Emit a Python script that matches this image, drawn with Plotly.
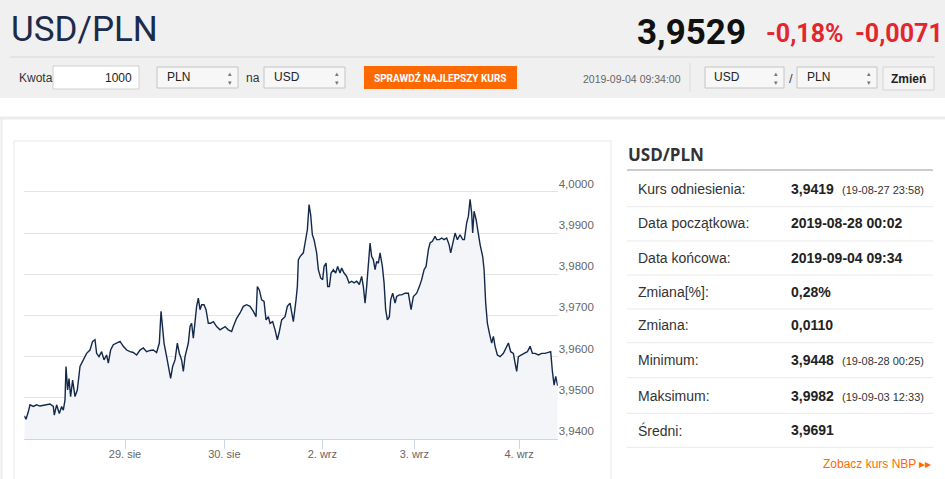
import plotly.graph_objects as go

W, H = 945, 479

# ── Data ──────────────────────────────────────────────────────────────────────
# ordinal position of each quote on the (weekend-free) time axis
BAR = [
    0.0, 1.7, 4.0, 5.7, 9.0, 12.3, 15.7, 20.7, 25.7, 29.0, 30.0, 32.3, 35.0, 37.3,
    39.0, 40.7, 41.7, 43.3, 44.7, 46.3, 48.3, 50.7, 53.0, 55.7, 59.0, 62.3, 65.7,
    68.3, 70.7, 72.3, 74.7, 77.3, 79.7, 82.3, 84.0, 86.3, 89.0, 92.3, 95.7, 99.0,
    102.3, 105.7, 109.0, 112.3, 115.7, 119.0, 122.3, 125.7, 129.0, 132.3, 135.0,
    136.7, 138.3, 139.7, 142.3, 144.0, 146.3, 148.3, 150.7, 153.0, 155.0, 157.3,
    159.0, 160.7, 164.0, 165.7, 167.3, 169.0, 170.7, 172.3, 174.0, 175.7, 177.3,
    179.7, 181.7, 184.0, 186.3, 189.0, 192.3, 195.7, 198.3, 200.7, 204.0, 207.3,
    209.0, 212.3, 215.7, 219.0, 222.3, 225.7, 229.0, 231.7, 233.0, 235.0, 237.3,
    239.7, 241.7, 244.0, 245.7, 248.3, 250.7, 253.0, 255.0, 257.3, 260.7, 263.0,
    265.7, 267.3, 269.0, 271.7, 273.0, 274.0, 275.7, 279.0, 280.7, 283.0, 284.7,
    286.3, 288.0, 289.7, 292.3, 294.0, 296.3, 298.3, 299.7, 301.7, 303.3, 305.0,
    306.7, 309.0, 311.3, 313.3, 315.7, 317.3, 319.7, 322.3, 324.7, 327.3, 329.7,
    332.3, 335.0, 337.3, 339.0, 340.7, 342.3, 344.0, 345.7, 347.3, 349.0, 350.7,
    352.3, 354.0, 355.7, 358.0, 359.7, 361.3, 363.0, 365.0, 366.3, 368.3, 370.7,
    372.3, 375.0, 377.3, 380.7, 384.0, 386.7, 389.0, 392.3, 395.0, 397.3, 399.7,
    401.7, 404.0, 405.7, 408.0, 410.7, 412.3, 415.0, 417.3, 419.7, 422.3, 424.7,
    426.3, 428.3, 430.7, 433.0, 435.7, 438.3, 440.0, 442.3, 444.0, 445.7, 447.3,
    448.3, 449.7, 451.7, 453.3, 455.7, 458.3, 459.7, 461.3, 463.0, 465.0, 467.3,
    469.0, 470.7, 473.0, 475.7, 479.0, 482.3, 484.0, 486.3, 489.0, 490.7, 492.3,
    494.0, 496.3, 499.7, 503.0, 505.7, 508.0, 510.7, 514.0, 517.3, 520.7, 524.0,
    526.3, 528.0, 529.7, 531.3, 533.3,
]
RATE = [
    3.9456, 3.9448, 3.9466, 3.9483, 3.9479, 3.9483, 3.9480, 3.9483, 3.9485, 3.9479,
    3.9458, 3.9483, 3.9462, 3.9479, 3.9470, 3.9495, 3.9576, 3.9519, 3.9547, 3.9503,
    3.9543, 3.9503, 3.9519, 3.9576, 3.9592, 3.9608, 3.9616, 3.9637, 3.9641, 3.9608,
    3.9600, 3.9612, 3.9592, 3.9604, 3.9584, 3.9616, 3.9629, 3.9633, 3.9637, 3.9625,
    3.9616, 3.9612, 3.9610, 3.9604, 3.9616, 3.9621, 3.9612, 3.9615, 3.9616, 3.9610,
    3.9633, 3.9710, 3.9665, 3.9633, 3.9600, 3.9576, 3.9547, 3.9576, 3.9592, 3.9633,
    3.9608, 3.9592, 3.9564, 3.9600, 3.9633, 3.9673, 3.9681, 3.9645, 3.9689, 3.9722,
    3.9742, 3.9714, 3.9726, 3.9726, 3.9714, 3.9681, 3.9681, 3.9685, 3.9673, 3.9665,
    3.9669, 3.9673, 3.9665, 3.9661, 3.9673, 3.9693, 3.9706, 3.9722, 3.9726, 3.9722,
    3.9710, 3.9697, 3.9770, 3.9762, 3.9738, 3.9734, 3.9689, 3.9697, 3.9681, 3.9685,
    3.9665, 3.9641, 3.9661, 3.9689, 3.9697, 3.9722, 3.9730, 3.9710, 3.9685, 3.9738,
    3.9770, 3.9835, 3.9843, 3.9852, 3.9872, 3.9908, 3.9969, 3.9945, 3.9896, 3.9884,
    3.9852, 3.9811, 3.9791, 3.9787, 3.9819, 3.9827, 3.9770, 3.9770, 3.9803, 3.9811,
    3.9803, 3.9819, 3.9803, 3.9815, 3.9803, 3.9795, 3.9779, 3.9783, 3.9779, 3.9783,
    3.9775, 3.9795, 3.9770, 3.9730, 3.9770, 3.9827, 3.9876, 3.9843, 3.9835, 3.9811,
    3.9831, 3.9827, 3.9852, 3.9819, 3.9779, 3.9714, 3.9689, 3.9697, 3.9738, 3.9754,
    3.9730, 3.9746, 3.9750, 3.9750, 3.9754, 3.9754, 3.9714, 3.9746, 3.9754, 3.9770,
    3.9787, 3.9811, 3.9819, 3.9860, 3.9876, 3.9880, 3.9892, 3.9884, 3.9884, 3.9888,
    3.9884, 3.9888, 3.9872, 3.9852, 3.9876, 3.9900, 3.9884, 3.9896, 3.9884, 3.9884,
    3.9925, 3.9941, 3.9982, 3.9949, 3.9900, 3.9953, 3.9933, 3.9908, 3.9872, 3.9843,
    3.9811, 3.9730, 3.9681, 3.9657, 3.9633, 3.9649, 3.9625, 3.9604, 3.9600, 3.9608,
    3.9625, 3.9633, 3.9612, 3.9608, 3.9584, 3.9564, 3.9600, 3.9604, 3.9608, 3.9612,
    3.9625, 3.9608, 3.9608, 3.9604, 3.9608, 3.9608, 3.9610, 3.9612, 3.9564, 3.9531,
    3.9552, 3.9529,
]

TICK_POS = [100.7, 200.0, 298.0, 390.0, 494.7]
TICK_TEXT = ["29. sie", "30. sie", "2. wrz", "3. wrz", "4. wrz"]
Y_TICKS = [3.94, 3.95, 3.96, 3.97, 3.98, 3.99, 4.00, 4.01]

STAT_LABELS = ["Kurs odniesienia:", "Data początkowa:", "Data końcowa:", "Zmiana[%]:",
               "Zmiana:", "Minimum:", "Maksimum:", "Średni:"]
STAT_VALUES = ["3,9419", "2019-08-28 00:02", "2019-09-04 09:34", "0,28%",
               "0,0110", "3,9448", "3,9982", "3,9691"]
STAT_NOTES = ["(19-08-27 23:58)", "", "", "", "", "(19-08-28 00:25)", "(19-09-03 12:33)", ""]

# ── Helpers (page pixels → paper) ─────────────────────────────────────────────


def px(x):
    return x / W


def py(y):
    return 1 - y / H


def rect(x0, y0, x1, y1, fill="rgba(0,0,0,0)", line="rgba(0,0,0,0)", width=1):
    return dict(type="rect", xref="paper", yref="paper",
                x0=px(x0), x1=px(x1), y0=py(y1), y1=py(y0),
                fillcolor=fill, line=dict(color=line, width=width), layer="below")


def hline(x0, x1, y, color, width=1):
    return dict(type="line", xref="paper", yref="paper",
                x0=px(x0), x1=px(x1), y0=py(y), y1=py(y),
                line=dict(color=color, width=width))


def vline(x, y0, y1, color, width=1):
    return dict(type="line", xref="paper", yref="paper",
                x0=px(x), x1=px(x), y0=py(y0), y1=py(y1),
                line=dict(color=color, width=width))


def text(x, y, s, size=12, color="#333", anchor="left", family="Liberation Sans, Arial"):
    return dict(xref="paper", yref="paper", x=px(x), y=py(y), text=s,
                showarrow=False, xanchor=anchor, yanchor="middle",
                font=dict(size=size, color=color, family=family))


# ── Figure ────────────────────────────────────────────────────────────────────

fig = go.Figure()
fig.add_trace(go.Scatter(
    x=BAR, y=RATE, mode="lines",
    line=dict(color="#13294b", width=1.4),
    fill="tozeroy", fillcolor="#f4f5f8",
    hoverinfo="skip",
))

shapes = [
    rect(0, 0, W, 98, fill="#f0f0f0"),
    hline(10, 935, 57, "#d8d8d8"),
    hline(0, W, 118, "#ececec", 3),
    vline(1.5, 118, H, "#ececec", 2),
    rect(14, 141, 611, H + 5, line="#e8e8e8"),
    # amount input
    rect(53, 66, 139, 89, fill="#ffffff", line="#d0d0d0"),
    # selects
    rect(157, 67, 238, 88, fill="#f7f7f7", line="#c4c4c4"),
    rect(264, 67, 345, 88, fill="#f7f7f7", line="#c4c4c4"),
    rect(705, 67, 784, 88, fill="#f7f7f7", line="#c4c4c4"),
    rect(797, 67, 877, 88, fill="#f7f7f7", line="#c4c4c4"),
    # buttons
    rect(364, 66, 517, 89, fill="#ff6a00"),
    rect(883, 67, 934, 90, fill="#f4f4f4", line="#d4d4d4"),
    vline(690, 63, 92, "#dcdcdc"),
    # stats table
    hline(627, 933, 170, "#9a9a9a"),
]
for y in [206.7, 241, 275, 309, 342.7, 377.7, 413.3, 447.3]:
    shapes.append(hline(627, 933, y, "#e9e9e9"))

ann = [
    text(9, 30, "USD/PLN", 35, "#1c2b4a", family="Roboto"),
    text(748, 32, "<b>3,9529</b>", 35, "#111111", "right", family="Roboto"),
    text(764, 34, "<b>-0,18%</b>", 25, "#e3262e", family="Roboto"),
    text(853, 34, "<b>-0,0071</b>", 25, "#e3262e", family="Roboto"),
    text(17, 78, "Kwota", 12, "#333"),
    text(134, 78, "1000", 12, "#222", "right"),
    text(165, 77, "PLN", 12, "#222"),
    text(244, 78, "na", 12, "#333"),
    text(272, 77, "USD", 12, "#222"),
    text(440.5, 78, "<b>SPRAWDŹ NAJLEPSZY KURS</b>", 10, "#ffffff", "center",
         family="Roboto"),
    text(683, 79, "2019-09-04 09:34:00", 10.5, "#666666", "right"),
    text(712, 77, "USD", 12, "#222"),
    text(791, 78, "/", 13, "#444", "center"),
    text(805, 77, "PLN", 12, "#222"),
    text(908.5, 79, "<b>Zmień</b>", 12, "#222", "center"),
    text(626, 154, "<b>USD/PLN</b>", 17, "#333", family="Open Sans"),
    text(933, 464, "Zobacz kurs NBP ▸▸", 12, "#ff6a00", "right"),
]
for cx in [230, 337, 776, 869]:
    ann.append(text(cx, 77.5, "▴<br>▾", 7, "#777", "center"))

rows_y = [189.3, 223.3, 257.7, 292.3, 325, 360, 395.7, 430]
for yy, lab, val, note in zip(rows_y, STAT_LABELS, STAT_VALUES, STAT_NOTES):
    ann.append(text(636, yy, lab, 14, "#333"))
    ann.append(text(789, yy, f"<b>{val}</b>", 14, "#222"))
    if note:
        ann.append(text(840, yy + 1, note, 11, "#333"))

y_text = [f"{v:.4f}".replace(".", ",") for v in Y_TICKS[:-1]] + [""]

fig.update_layout(
    width=W, height=H,
    margin=dict(l=0, r=0, t=0, b=0),
    paper_bgcolor="#ffffff", plot_bgcolor="rgba(0,0,0,0)",
    showlegend=False,
    shapes=shapes, annotations=ann,
    xaxis=dict(
        domain=[px(24.3), px(557.7)],
        range=[BAR[0], BAR[-1]],
        tickvals=TICK_POS, ticktext=TICK_TEXT,
        ticks="outside", ticklen=9, tickcolor="#ccd6eb", tickwidth=1,
        ticklabelstandoff=-4,
        showline=True, linecolor="#ccd6eb", linewidth=1,
        showgrid=False, zeroline=False,
        tickfont=dict(size=11, color="#666666", family="Liberation Sans, Arial"),
    ),
    yaxis=dict(
        domain=[py(439), py(150.7)],
        range=[3.94, 4.01],
        side="right",
        tickvals=Y_TICKS, ticktext=y_text,
        ticklabelposition="outside top",
        showgrid=True, gridcolor="#e3e3e3", gridwidth=1,
        zeroline=False, ticks="",
        tickfont=dict(size=11.5, color="#666666", family="Liberation Sans, Arial"),
    ),
)

# the page body has a default 8px margin; drop it so the figure fills the window
fig.write_html("out.html", config={"displayModeBar": False},
               post_script="document.body.style.margin='0';")
